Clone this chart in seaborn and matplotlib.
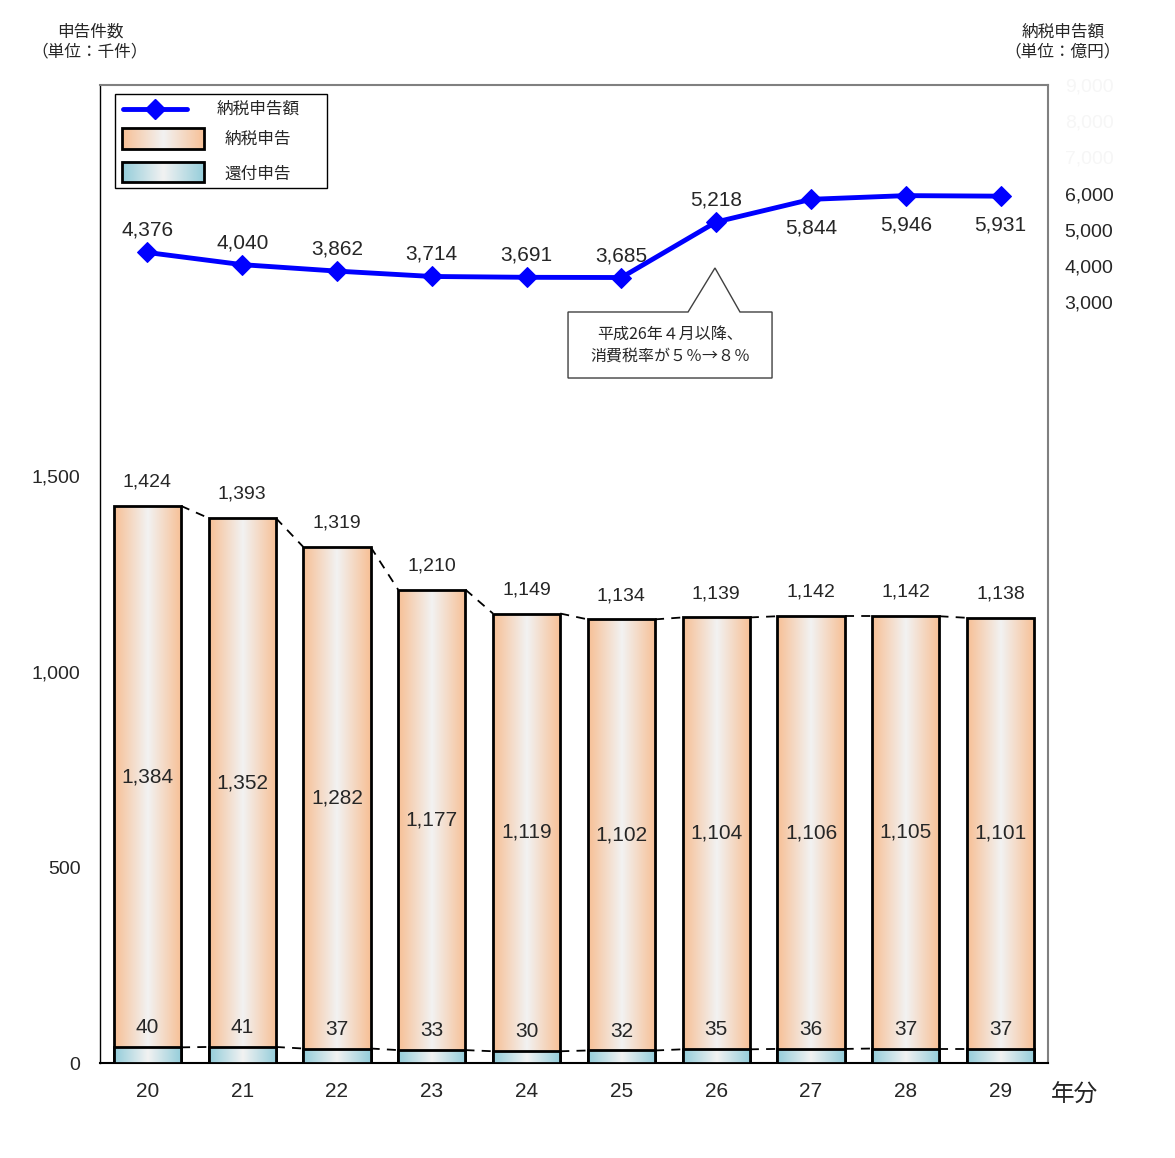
import numpy as np
import pandas as pd
import matplotlib
matplotlib.use("Agg")
import matplotlib.pyplot as plt
import seaborn as sns
from matplotlib.patches import Polygon, Rectangle
from matplotlib.lines import Line2D
from matplotlib.ticker import FuncFormatter

# ---- data ----
years = ["20", "21", "22", "23", "24", "25", "26", "27", "28", "29"]
nozei = [1384, 1352, 1282, 1177, 1119, 1102, 1104, 1106, 1105, 1101]   # 納税申告
kanpu = [40, 41, 37, 33, 30, 32, 35, 36, 37, 37]                     # 還付申告
totals = [1424, 1393, 1319, 1210, 1149, 1134, 1139, 1142, 1142, 1138]
amount = [4376, 4040, 3862, 3714, 3691, 3685, 5218, 5844, 5946, 5931]  # 納税申告額(億円)

df = pd.DataFrame({"year": years, "nozei": nozei, "kanpu": kanpu,
                   "total": totals, "amount": amount})

sns.set_theme(style="white")
plt.rcParams["font.family"] = ["Liberation Sans", "Noto Sans CJK JP", "DejaVu Sans"]
JP = ["Noto Sans CJK JP", "DejaVu Sans"]

ORANGE = np.array([247, 192, 150]) / 255
BLUE = np.array([148, 205, 218]) / 255
MID = np.array([242, 242, 242]) / 255


def gradient(edge, n=64):
    t = np.abs(np.linspace(-1, 1, n))[None, :, None]
    return MID * (1 - t) + edge * t


fig = plt.figure(figsize=(11.75, 11.58), dpi=100)
ax = fig.add_axes([100 / 1175, 1 - 1063 / 1158, 948 / 1175, 978 / 1158])

W = 0.71
sns.barplot(data=df, x="year", y="total", color="white", width=W,
            edgecolor="black", linewidth=2, ax=ax, zorder=2)
sns.barplot(data=df, x="year", y="kanpu", color="white", width=W,
            edgecolor="black", linewidth=2, ax=ax, zorder=3)

# gradient fills clipped to the bars
n = len(years)
for i, p in enumerate(ax.patches):
    x, y, w, h = p.get_x(), p.get_y(), p.get_width(), p.get_height()
    grad = gradient(ORANGE if i < n else BLUE)
    im = ax.imshow(grad, extent=[x, x + w, y, y + h], aspect="auto",
                   zorder=p.get_zorder() - 0.01, interpolation="bilinear")
    im.set_clip_path(p)
    p.set_facecolor("none")

ax.set_xlim(-0.5, n - 0.5)
ax.set_ylim(0, 2500)

# dashed connectors
for series in (totals, kanpu):
    for i in range(n - 1):
        ax.plot([i + W / 2, i + 1 - W / 2], [series[i], series[i + 1]],
                ls=(0, (5, 4)), color="black", lw=1.3, zorder=1)

# labels on bars
for i in range(n):
    ax.annotate(f"{totals[i]:,}", (i, totals[i]), xytext=(0, 11),
                textcoords="offset points", ha="center", va="bottom", fontsize=14)
    ax.text(i, kanpu[i] + nozei[i] / 2, f"{nozei[i]:,}", ha="center",
            va="center", fontsize=15, zorder=5)
    ax.annotate(f"{kanpu[i]:,}", (i, kanpu[i]), xytext=(0, 14),
                textcoords="offset points", ha="center", va="center",
                fontsize=15, zorder=5)

ax.set_xlabel("")
ax.set_ylabel("")
ax.set_yticks([0, 500, 1000, 1500])
ax.yaxis.set_major_formatter(FuncFormatter(lambda v, _: f"{int(v):,}"))
ax.tick_params(axis="y", length=0, pad=14, labelsize=14)
ax.tick_params(axis="x", length=0, pad=14, labelsize=15)
ax.set_xticks(np.arange(-0.5, n), minor=True)
ax.tick_params(axis="x", which="minor", direction="in", length=6, width=1, color="black")
for s in ax.spines.values():
    s.set_color("#808080")
    s.set_linewidth(1.5)
ax.spines["bottom"].set_color("black")
ax.spines["left"].set_color("black")
ax.spines["left"].set_linewidth(1)

# right axis: line
ax2 = ax.twinx()
sns.lineplot(x=np.arange(n), y=df["amount"], ax=ax2, color="#0000ff", lw=3.5,
             marker="D", markersize=10, markeredgecolor="#0000ff", zorder=6)
ax2.set_ylim(-18000, 9000)
ax2.set_xlim(-0.5, n - 0.5)
ax2.set_ylabel("")
ax2.set_yticks([3000, 4000, 5000, 6000, 7000, 8000, 9000])
ax2.yaxis.set_major_formatter(FuncFormatter(lambda v, _: f"{int(v):,}"))
ax2.tick_params(axis="y", length=0, pad=12, labelsize=14)
for lab, v in zip(ax2.get_yticklabels(), ax2.get_yticks()):
    if v > 6000:
        lab.set_color("#f6f6f6")
for s in ax2.spines.values():
    s.set_visible(False)

for i, v in enumerate(amount):
    if i < 7:
        ax2.annotate(f"{v:,}", (i, v), xytext=(0, 9), textcoords="offset points",
                     ha="center", va="bottom", fontsize=15)
    else:
        ax2.annotate(f"{v:,}", (i, v), xytext=(0, -21), textcoords="offset points",
                     ha="center", va="center", fontsize=15)

# callout
x0, x1, yb, yt = 0.4937, 0.7089, 0.7004, 0.7679
callout = Polygon([(x0, yb), (x1, yb), (x1, yt), (0.6751, yt), (0.6487, 0.8129),
                   (0.6203, yt), (x0, yt)], closed=True, transform=ax2.transAxes,
                  facecolor="white", edgecolor="#404040", lw=1, zorder=7)
ax2.add_patch(callout)
ax2.text((x0 + x1) / 2, (yb + yt) / 2, "平成26年４月以降、\n消費税率が５％→８％",
         transform=ax2.transAxes, ha="center", va="center", fontsize=11.5,
         family=JP, linespacing=1.4, zorder=8)

# legend drawn by hand
ax2.add_patch(Rectangle((0.0158, 0.8947), 0.2237, 0.0961, transform=ax2.transAxes,
                        facecolor="white", edgecolor="black", lw=1, zorder=7))
ax2.add_line(Line2D([0.0243, 0.0918], [0.9755, 0.9755], transform=ax2.transAxes,
                    color="#0000ff", lw=3.5, zorder=8))
ax2.add_line(Line2D([0.0580], [0.9755], transform=ax2.transAxes, color="#0000ff",
                    marker="D", markersize=10, zorder=8))
for (ylo, yhi), edge in (((0.9346, 0.9560), ORANGE), ((0.9008, 0.9213), BLUE)):
    ax2.imshow(gradient(edge), extent=[0.0232, 0.1097, ylo, yhi], aspect="auto",
               transform=ax2.transAxes, zorder=8, interpolation="bilinear")
    ax2.add_patch(Rectangle((0.0232, ylo), 0.0865, yhi - ylo, transform=ax2.transAxes,
                            facecolor="none", edgecolor="black", lw=2, zorder=9))
for yy, txt in ((0.9755, "納税申告額"), (0.9448, "納税申告"), (0.9090, "還付申告")):
    ax2.text(0.1667, yy, txt, transform=ax2.transAxes, ha="center", va="center",
             fontsize=12, family=JP, zorder=9)
ax2.set_ylim(-18000, 9000)
ax2.set_xlim(-0.5, n - 0.5)

# outer texts
fig.text(90 / 1175, 1 - 42 / 1158, "申告件数\n（単位：千件）", ha="center", va="center",
         fontsize=12, family=JP, linespacing=1.2)
fig.text(1063 / 1175, 1 - 42 / 1158, "納税申告額\n（単位：億円）", ha="center", va="center",
         fontsize=12, family=JP, linespacing=1.2)
fig.text(1074 / 1175, 1 - 1095 / 1158, "年分", ha="center", va="center",
         fontsize=17, family=JP)

fig.savefig("out.png", dpi=100)
